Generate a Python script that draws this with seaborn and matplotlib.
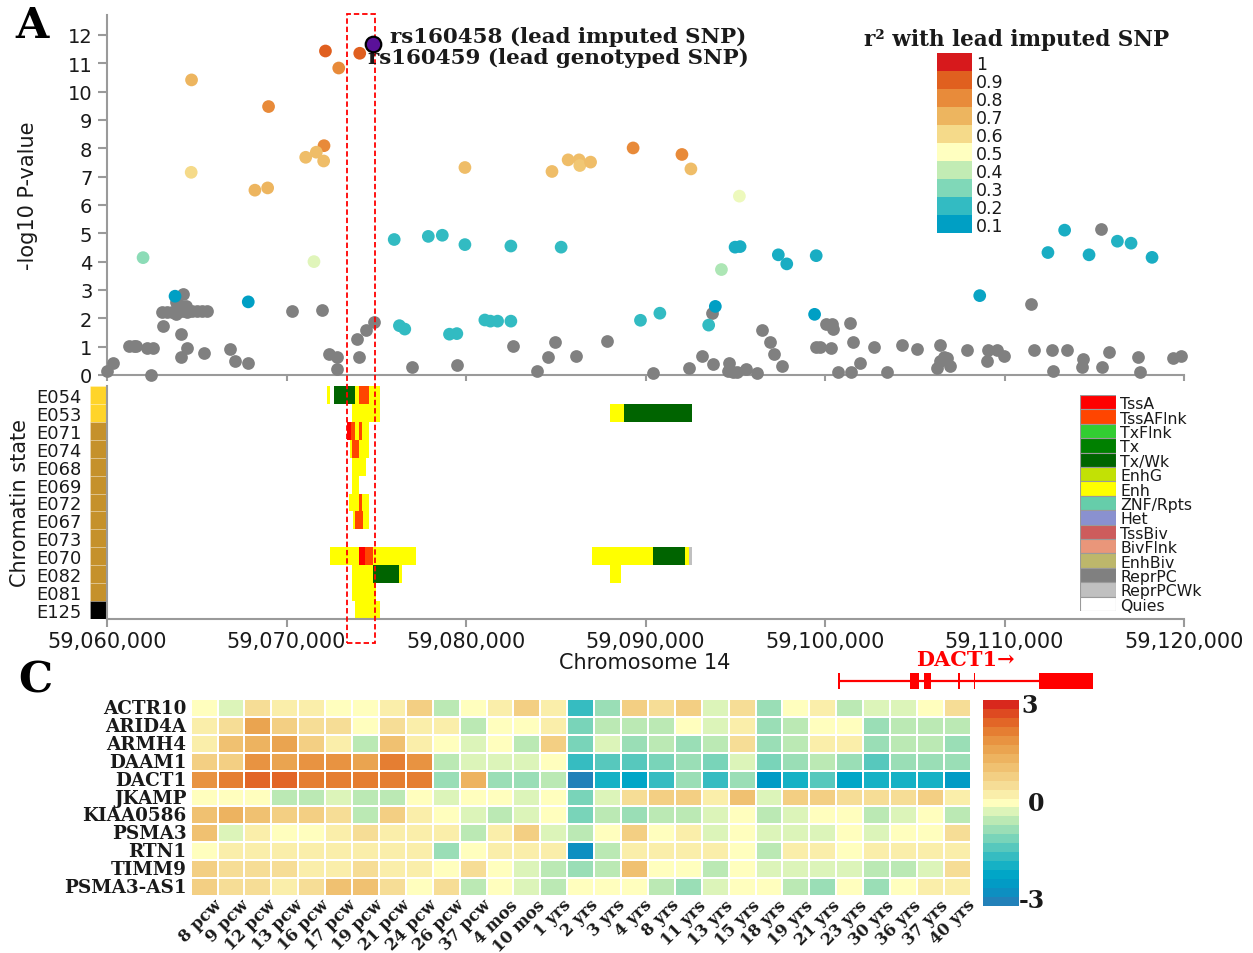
import numpy as np
import pandas as pd
import matplotlib
matplotlib.use("Agg")
import matplotlib.pyplot as plt
import seaborn as sns
import matplotlib.transforms as mtransforms
from matplotlib.colors import LinearSegmentedColormap, ListedColormap
from matplotlib.patches import Rectangle
from matplotlib.ticker import FuncFormatter

# ---------------------------------------------------------------- data
region = (59060000, 59120000)

# colored SNPs (position, -log10 P, r2 with lead SNP)
snp_pos = [59072170, 59074080, 59072910, 59064710, 59069000, 59072090, 59071070, 59071660,
           59072070, 59064690, 59068240, 59068950, 59062010, 59076000, 59071530, 59063790,
           59067870, 59079940, 59084790, 59085690, 59086300, 59086340, 59086940, 59089310,
           59092030, 59092530, 59095230, 59077900, 59078680, 59079940, 59082500, 59085300,
           59094990, 59095270, 59094230, 59097400, 59097870, 59093890, 59093520, 59089720,
           59090800, 59076290, 59076590, 59079080, 59079490, 59081050, 59081360, 59081760,
           59082500, 59099510, 59108620, 59099420, 59112420, 59113350, 59116290, 59117050,
           59114710, 59118220]
snp_logp = [11.43, 11.35, 10.83, 10.41, 9.47, 8.09, 7.68, 7.86,
            7.55, 7.15, 6.52, 6.60, 4.14, 4.78, 4.00, 2.78,
            2.58, 7.32, 7.18, 7.59, 7.59, 7.39, 7.51, 8.01,
            7.78, 7.27, 6.31, 4.89, 4.93, 4.60, 4.55, 4.51,
            4.51, 4.53, 3.72, 4.24, 3.92, 2.42, 1.76, 1.93,
            2.18, 1.74, 1.62, 1.44, 1.46, 1.94, 1.90, 1.90,
            1.90, 4.21, 2.80, 2.14, 4.32, 5.11, 4.72, 4.65,
            4.24, 4.15]
snp_r2 = [0.90, 0.90, 0.80, 0.70, 0.80, 0.80, 0.68, 0.68,
          0.68, 0.60, 0.70, 0.70, 0.32, 0.20, 0.45, 0.10,
          0.10, 0.68, 0.68, 0.68, 0.68, 0.65, 0.68, 0.80,
          0.80, 0.68, 0.47, 0.20, 0.20, 0.20, 0.20, 0.20,
          0.15, 0.15, 0.37, 0.15, 0.15, 0.10, 0.20, 0.20,
          0.20, 0.20, 0.20, 0.20, 0.20, 0.20, 0.20, 0.20,
          0.20, 0.15, 0.12, 0.10, 0.15, 0.15, 0.17, 0.17,
          0.15, 0.15]

# SNPs without LD information (grey)
grey_pos = [59093690, 59077000, 59079490, 59082620, 59083940, 59084550, 59084980, 59086150,
            59087860, 59090430, 59092400, 59093150, 59093740, 59094640, 59094620, 59094900,
            59095080, 59095600, 59096200, 59096480, 59096940, 59097170, 59097600, 59115400,
            59111470, 59100050, 59100380, 59100470, 59101410, 59099490, 59099730, 59100350,
            59101540, 59102750, 59104270, 59105130, 59106390, 59106620, 59106390, 59106800,
            59106950, 59106240, 59107920, 59109070, 59109590, 59109960, 59109030, 59101930,
            59100700, 59101450, 59103450, 59111670, 59112620, 59113460, 59114390, 59114330,
            59115800, 59115430, 59112680, 59117440, 59117530, 59119360, 59119820, 59060020,
            59060350, 59061230, 59061510, 59061600, 59062250, 59062580, 59062470, 59063140,
            59063090, 59063370, 59063640, 59063920, 59064200, 59064480, 59064760, 59065040,
            59065320, 59065560, 59063830, 59064150, 59064390, 59064260, 59063830, 59064110,
            59064430, 59064110, 59065410, 59066860, 59067130, 59067830, 59070310, 59071960,
            59072390, 59072820, 59072820, 59073900, 59074060, 59074440, 59074860]
grey_logp = [2.19, 0.27, 0.37, 1.01, 0.13, 0.65, 1.18, 0.66,
             1.21, 0.07, 0.24, 0.66, 0.39, 0.41, 0.15, 0.10,
             0.12, 0.21, 0.07, 1.60, 1.15, 0.74, 0.33, 5.15,
             2.49, 1.80, 1.80, 1.62, 1.84, 0.98, 0.98, 0.94,
             1.15, 0.98, 1.06, 0.92, 1.06, 0.62, 0.50, 0.59,
             0.31, 0.24, 0.89, 0.89, 0.89, 0.66, 0.50, 0.42,
             0.10, 0.10, 0.10, 0.89, 0.89, 0.89, 0.56, 0.27,
             0.82, 0.27, 0.15, 0.65, 0.10, 0.59, 0.66, 0.15,
             0.41, 1.03, 1.03, 1.01, 0.94, 0.94, 0.00, 1.72,
             2.21, 2.21, 2.21, 2.21, 2.27, 2.21, 2.27, 2.27,
             2.27, 2.27, 2.57, 2.45, 2.45, 2.86, 2.15, 1.45,
             0.95, 0.62, 0.77, 0.92, 0.50, 0.42, 2.26, 2.31,
             0.74, 0.62, 0.21, 1.27, 0.65, 1.60, 1.88]

lead_pos, lead_logp = 59074800, 11.68
ann_labels = ["rs160458 (lead imputed SNP)", "rs160459 (lead genotyped SNP)"]

r2_levels = [1.0, 0.9, 0.8, 0.7, 0.6, 0.5, 0.4, 0.3, 0.2, 0.1]
r2_colors = ["#d7191c", "#e0601f", "#e88b3a", "#edb55f", "#f5da8a",
             "#ffffc0", "#c2ecb4", "#80d8b8", "#33bbc2", "#009fc4"]

# chromatin states (Roadmap 15-state model)
state_names = ["TssA", "TssAFlnk", "TxFlnk", "Tx", "Tx/Wk", "EnhG", "Enh", "ZNF/Rpts",
               "Het", "TssBiv", "BivFlnk", "EnhBiv", "ReprPC", "ReprPCWk", "Quies"]
state_colors = ["#ff0000", "#ff4500", "#32cd32", "#008000", "#006400", "#c2e105", "#ffff00",
                "#66cdaa", "#8a91d0", "#cd5c5c", "#e9967a", "#bdb76b", "#808080", "#c0c0c0",
                "#ffffff"]
samples = ["E054", "E053", "E071", "E074", "E068", "E069", "E072", "E067", "E073",
           "E070", "E082", "E081", "E125"]
sample_group_colors = ["#ffd42a", "#ffd42a"] + ["#c5912b"] * 10 + ["#000000"]

seg_sample = ["E054", "E054", "E054", "E054", "E054",
              "E053", "E053", "E053",
              "E071", "E071", "E071", "E071", "E071",
              "E074", "E074", "E074",
              "E068", "E069",
              "E072", "E072", "E072",
              "E067", "E067", "E067",
              "E070", "E070", "E070", "E070", "E070", "E070", "E070", "E070",
              "E082", "E082", "E082", "E082",
              "E081", "E125"]
seg_start = [59072240, 59072630, 59073810, 59074020, 59074620,
             59073630, 59088010, 59088810,
             59073390, 59073620, 59073820, 59074020, 59074210,
             59073540, 59073650, 59074020,
             59073630, 59073630,
             59073470, 59074020, 59074210,
             59073730, 59073840, 59074250,
             59072440, 59074020, 59074400, 59074800, 59087010, 59090430, 59092220, 59092410,
             59073630, 59074800, 59076240, 59088010,
             59073630, 59073840]
seg_end = [59072430, 59073810, 59074020, 59074620, 59075220,
           59075230, 59088810, 59092610,
           59073620, 59073820, 59074020, 59074210, 59074620,
           59073650, 59074020, 59074620,
           59074440, 59074020,
           59074020, 59074210, 59074620,
           59073840, 59074250, 59074620,
           59074020, 59074400, 59074800, 59077230, 59090430, 59092220, 59092410, 59092610,
           59074800, 59076240, 59076410, 59088610,
           59074960, 59075230]
seg_state = ["Enh", "Tx/Wk", "Enh", "TssAFlnk", "Enh",
             "Enh", "Enh", "Tx/Wk",
             "TssA", "TssAFlnk", "Enh", "TssAFlnk", "Enh",
             "Enh", "TssAFlnk", "Enh",
             "Enh", "Enh",
             "Enh", "TssAFlnk", "Enh",
             "Enh", "TssAFlnk", "Enh",
             "Enh", "TssA", "TssAFlnk", "Enh", "Enh", "Tx/Wk", "Enh", "ReprPCWk",
             "Enh", "Tx/Wk", "Enh", "Enh",
             "Enh", "Enh"]

highlight = (59073390, 59074950)

# DACT1 gene model
gene_start, gene_end = 59100760, 59114950
exon_start = [59100730, 59104740, 59105490, 59107420, 59108290, 59111900]
exon_end = [59100830, 59105220, 59105910, 59107500, 59108370, 59114950]
gene_label = "DACT1\u2192"
gene_label_pos = 59107820

# expression heatmap (z-scores)
genes = ["ACTR10", "ARID4A", "ARMH4", "DAAM1", "DACT1", "JKAMP", "KIAA0586", "PSMA3",
         "RTN1", "TIMM9", "PSMA3-AS1"]
ages = ["8 pcw", "9 pcw", "12 pcw", "13 pcw", "16 pcw", "17 pcw", "19 pcw", "21 pcw",
        "24 pcw", "26 pcw", "37 pcw", "4 mos", "10 mos", "1 yrs", "2 yrs", "3 yrs", "4 yrs",
        "8 yrs", "11 yrs", "13 yrs", "15 yrs", "18 yrs", "19 yrs", "21 yrs", "23 yrs",
        "30 yrs", "36 yrs", "37 yrs", "40 yrs"]
expr_ACTR10 = [0.1, -0.3, 0.5, 0.15, 0.15, 0.1, 0.1, 0.2, 0.8, -0.5, 0.1, 0.3, 0.9, 0.35, -1.6,
               -0.9, 0.9, 0.6, 0.7, -0.3, 0.6, -0.9, 0.1, 0.35, -0.5, -0.25, -0.15, 0.1, 0.5]
expr_ARID4A = [0.35, 0.6, 1.5, 0.8, 0.6, 0.55, -0.05, 0.65, 0.35, 0.35, -0.6, -0.1, 0.05, 0.3,
               -1.0, -0.4, -0.5, -0.6, 0.1, -0.3, 0.35, -0.7, -0.6, 0.0, 0.05, -0.9, -0.5,
               -0.4, -0.45]
expr_ARMH4 = [0.3, 1.0, 1.3, 1.6, 0.7, 0.15, -0.5, 0.95, 0.15, -0.05, -0.3, -0.1, -0.65, 0.7,
              -1.05, -0.35, -0.75, -0.65, -0.75, -0.5, 0.55, -0.75, -0.4, 0.25, 0.3, -0.85,
              -0.4, -0.65, -0.85]
expr_DAAM1 = [0.8, 0.9, 1.8, 1.6, 1.8, 1.85, 1.6, 2.0, 1.8, -0.6, -0.3, -0.35, -0.2, -0.1,
              -1.6, -1.3, -1.3, -1.0, -0.8, -1.0, -0.25, -1.1, -0.9, -0.5, -0.8, -1.3, -0.8,
              -0.7, -0.8]
expr_DACT1 = [1.95, 2.05, 2.35, 2.45, 2.2, 2.2, 2.05, 2.15, 2.15, -0.8, 1.3, -0.7, -0.75, -0.5,
              -2.9, -1.9, -2.1, -1.6, -0.8, -1.6, -0.75, -2.4, -1.7, -1.25, -2.1, -1.7, -1.9,
              -1.7, -2.25]
expr_JKAMP = [0.1, 0.05, -0.05, -0.4, -0.45, -0.25, -0.6, -0.45, 0.1, -0.25, 0.05, 0.05, -0.2,
              0.05, -1.0, -0.3, 0.6, 0.7, 0.75, 0.35, 1.0, -0.3, 0.75, 0.9, 0.55, 0.6, 0.55,
              0.7, 0.3]
expr_KIAA0586 = [1.0, 1.3, 1.0, 0.75, 0.7, 0.4, -0.4, 0.7, 0.3, 0.0, -0.3, -0.45, -0.35, -0.1,
                 -1.0, -0.65, -0.9, -0.5, -0.55, -0.35, 0.1, -0.65, -0.2, 0.05, -0.1, -0.45,
                 -0.15, 0.05, -0.4]
expr_PSMA3 = [1.0, -0.2, 0.15, 0.1, -0.1, 0.2, 0.6, 0.15, 0.15, 0.15, -0.4, 0.3, 0.7, -0.3,
              -0.5, -0.1, 0.9, 0.1, 0.2, -0.25, 0.1, -0.3, -0.25, -0.3, -0.1, -0.3, -0.1,
              -0.1, 0.55]
expr_RTN1 = [0.1, 0.15, 0.15, 0.2, 0.2, 0.15, 0.2, 0.15, 0.2, -0.8, 0.1, 0.2, 0.3, 0.2, -2.6,
             -0.65, 0.2, 0.3, 0.3, 0.15, 0.1, -0.45, 0.3, 0.2, 0.1, 0.2, 0.3, 0.3, 0.25]
expr_TIMM9 = [0.7, 0.55, 0.55, 0.5, 0.2, 0.3, 0.55, 0.2, 0.15, -0.1, 0.6, -0.1, -0.3, -0.45,
              -0.7, -0.5, 1.1, -0.1, 0.1, -0.55, -0.1, -0.3, -0.2, -0.25, -0.3, -0.55, -0.4,
              -0.2, 0.65]
expr_PSMA3_AS1 = [0.7, 0.55, 0.5, 0.3, 0.55, 1.0, 1.0, 0.65, 0.1, 0.55, -0.45, -0.1, -0.35,
                  -0.45, 0.0, -0.05, 0.1, -0.65, -0.7, -0.3, -0.1, 0.1, -0.55, -0.7, -0.1,
                  -0.8, -0.1, 0.3, 0.15]
expr_rows = [expr_ACTR10, expr_ARID4A, expr_ARMH4, expr_DAAM1, expr_DACT1, expr_JKAMP,
             expr_KIAA0586, expr_PSMA3, expr_RTN1, expr_TIMM9, expr_PSMA3_AS1]

# ---------------------------------------------------------------- style
sns.set_theme(style="white")
plt.rcParams['font.family'] = ['DejaVu Sans']
SERIF = ['DejaVu Serif', 'DejaVu Sans']
SPINE = '#9a9a9a'
TXT = '#1a1a1a'

W, H = 1253, 954
fig = plt.figure(figsize=(W / 100, H / 100), dpi=100)


def ax_px(x0, y0, x1, y1):
    return fig.add_axes([x0 / W, 1 - y1 / H, (x1 - x0) / W, (y1 - y0) / H])


r2_cmap = LinearSegmentedColormap.from_list(
    "r2", list(zip([(v - 0.1) / 0.9 for v in r2_levels[::-1]], r2_colors[::-1])))

hm_anchor_v = [-3, -2.5, -2, -1.5, -1, -0.5, 0, 0.5, 1, 1.5, 2, 2.5, 3]
hm_anchor_c = ["#2c7bb6", "#0396c4", "#00aac8", "#3ebfc0", "#7fd6b8", "#bfeab4", "#ffffbf",
               "#f6df98", "#f0c474", "#eba854", "#e68836", "#e05a22", "#d7191c"]
hm_cont = LinearSegmentedColormap.from_list(
    "hm", list(zip([(v + 3) / 6 for v in hm_anchor_v], hm_anchor_c)))
nb = 23
hm_cmap = ListedColormap([hm_cont((i + 0.5) / nb) for i in range(nb)])

xfmt = FuncFormatter(lambda v, p: f"{int(round(v)):,}")
xt = list(range(region[0], region[1] + 1, 10000))

# ---------------------------------------------------------------- chromatin states
ax2 = ax_px(107, 387, 1184, 620)
ax2.set_facecolor('none')
ax2.set_zorder(1)
state_col = dict(zip(state_names, state_colors))
row_of = {s: i for i, s in enumerate(samples)}
seg_df = pd.DataFrame({"sample": seg_sample, "start": seg_start, "end": seg_end,
                       "state": seg_state})
ax2.barh(y=[row_of[s] for s in seg_df["sample"]], width=seg_df["end"] - seg_df["start"],
         left=seg_df["start"], height=1.0, color=[state_col[s] for s in seg_df["state"]],
         linewidth=0)
ax2.set_xlim(*region)
ax2.set_ylim(len(samples) - 0.5, -0.5)
ax2.set_yticks([])
ax2.set_xticks(xt)
ax2.xaxis.set_major_formatter(xfmt)
ax2.tick_params(axis='x', direction='out', length=6, width=1.5, color=SPINE, pad=3,
                labelsize=15, labelcolor=TXT, bottom=True)
for s in ['top', 'right']:
    ax2.spines[s].set_visible(False)
for s in ['left', 'bottom']:
    ax2.spines[s].set_color(SPINE)
    ax2.spines[s].set_linewidth(1.5)
fig.text(645 / W, 1 - 663 / H, "Chromosome 14", ha='center', va='center', fontsize=15,
         color=TXT)
fig.text(20 / W, 1 - 503 / H, "Chromatin state", rotation=90, ha='center', va='center',
         fontsize=15, color=TXT)

# sample group strip
axs = ax_px(89.5, 387, 107, 620)
axs.barh(y=range(len(samples)), width=[1] * len(samples), left=0, height=1.0,
         color=sample_group_colors, edgecolor=(1, 1, 1, 0.25), linewidth=0.6)
axs.set_xlim(0, 1)
axs.set_ylim(len(samples) - 0.5, -0.5)
axs.set_xticks([])
axs.set_yticks(range(len(samples)))
axs.set_yticklabels(samples)
axs.tick_params(axis='y', length=0, pad=6, labelsize=12.9, labelcolor=TXT)
for s in axs.spines.values():
    s.set_visible(False)

# chromatin legend
axc = ax_px(1080, 396, 1116, 612)
axc.set_zorder(2)
axc.barh(y=range(len(state_names)), width=[1] * len(state_names), left=0, height=1.0,
         color=state_colors, edgecolor='#9a9a9a', linewidth=0.8)
axc.set_xlim(0, 1)
axc.set_ylim(len(state_names) - 0.5, -0.5)
axc.set_xticks([])
axc.yaxis.tick_right()
axc.set_yticks(range(len(state_names)))
axc.set_yticklabels(state_names)
axc.tick_params(axis='y', length=0, pad=3, labelsize=11.3, labelcolor=TXT)
for s in axc.spines.values():
    s.set_visible(False)

# ---------------------------------------------------------------- panel A: scatter
ax1 = ax_px(107, 16, 1184, 376)
ax1.set_facecolor('none')
ax1.set_zorder(3)
grey_df = pd.DataFrame({"pos": grey_pos, "logp": grey_logp})
col_df = pd.DataFrame({"pos": snp_pos, "logp": snp_logp, "r2": snp_r2})
sns.scatterplot(data=grey_df, x="pos", y="logp", color="#808080", s=84, linewidth=0,
                ax=ax1, clip_on=False, zorder=3)
sns.scatterplot(data=col_df, x="pos", y="logp", hue="r2", palette=r2_cmap, hue_norm=(0.1, 1.0),
                s=84, linewidth=0, legend=False, ax=ax1, clip_on=False, zorder=4)
ax1.scatter([lead_pos], [lead_logp], s=125, color="#5a1199", edgecolor="black", linewidth=1.6,
            zorder=8, clip_on=False)
ax1.set_xlim(*region)
ax1.set_ylim(0, 12.7)
ax1.set_yticks(range(0, 13))
ax1.set_xticks(xt)
ax1.xaxis.set_major_formatter(xfmt)
ax1.tick_params(axis='y', direction='out', length=6.5, width=1.5, color=SPINE, pad=4,
                labelsize=14, labelcolor=TXT, left=True)
ax1.tick_params(axis='x', direction='out', length=4.5, width=1.5, color=SPINE, labelbottom=False,
                bottom=True)
for s in ['top', 'right']:
    ax1.spines[s].set_visible(False)
for s in ['left', 'bottom']:
    ax1.spines[s].set_color(SPINE)
    ax1.spines[s].set_linewidth(1.5)
ax1.set_xlabel("")
ax1.set_ylabel("")

# highlight box spanning both genomic panels (under the lead SNP marker)
bt = mtransforms.blended_transform_factory(ax1.transData, fig.transFigure)
ax1.add_patch(Rectangle((highlight[0], 1 - 644 / H), highlight[1] - highlight[0],
                        (644 - 15) / H, transform=bt, fill=False, edgecolor='#ff0000',
                        linewidth=1.3, linestyle=(0, (3, 1.6)), zorder=6, clip_on=False))

# annotations for the lead SNPs
ax1.annotate(ann_labels[0], xy=(lead_pos, lead_logp), xytext=(17, 8), textcoords='offset pixels',
             ha='left', va='center', fontsize=15.4, fontweight='bold', family=SERIF, color=TXT,
             zorder=9, annotation_clip=False)
ax1.annotate(ann_labels[1], xy=(snp_pos[1], snp_logp[1]), xytext=(8, -4),
             textcoords='offset pixels', ha='left', va='center', fontsize=15.4,
             fontweight='bold', family=SERIF, color=TXT, zorder=7, annotation_clip=False)

fig.text(28 / W, 1 - 196 / H, "-log10 P-value", rotation=90, ha='center', va='center',
         fontsize=15, color=TXT)

# r2 legend
axl = ax_px(937, 54, 972, 234)
axl.set_zorder(4)
axl.barh(y=list(range(len(r2_levels))), width=[1] * len(r2_levels), left=0, height=1.0,
         color=r2_colors, linewidth=0)
axl.set_ylim(len(r2_levels) - 0.5, -0.5)
axl.set_xlim(0, 1)
axl.set_xticks([])
axl.yaxis.tick_right()
axl.set_yticks(range(len(r2_levels)))
axl.set_yticklabels([f"{v:g}" for v in r2_levels])
axl.tick_params(axis='y', length=0, pad=3, labelsize=12.5, labelcolor=TXT)
for s in axl.spines.values():
    s.set_visible(False)
fig.text(1017 / W, 1 - 40 / H, "r\u00b2 with lead imputed SNP", ha='center', va='center',
         fontsize=15.5, fontweight='bold', family=SERIF, color=TXT)

# ---------------------------------------------------------------- gene track
axg = ax_px(107, 650, 1184, 697)
axg.set_facecolor('none')
axg.set_xlim(*region)
axg.set_ylim(47, 0)
axg.plot([gene_start, gene_end], [31.7, 31.7], color='#ff0000', lw=1.6, solid_capstyle='butt')
axg.bar(x=exon_start, height=16, width=[e - s for s, e in zip(exon_start, exon_end)],
        bottom=23.7, align='edge', color='#ff0000', linewidth=0)
axg.text(gene_label_pos, 10, gene_label, ha='center', va='center', fontsize=15,
         fontweight='bold', family=SERIF, color='#ff0000')
axg.axis('off')

# ---------------------------------------------------------------- panel C: heatmap
expr_df = pd.DataFrame(expr_rows, index=genes, columns=ages)
axh = ax_px(190.7, 700, 970.7, 897)
cax = ax_px(983, 701, 1019, 907)
sns.heatmap(expr_df, cmap=hm_cmap, vmin=-3, vmax=3, linewidths=1.3, linecolor='white',
            ax=axh, cbar_ax=cax, cbar_kws={"ticks": []})
axh.set_yticks(np.arange(len(genes)) + 0.5)
axh.set_yticklabels(genes, rotation=0, fontsize=13.2, fontweight='bold', family=SERIF,
                    color=TXT)
axh.set_xticks(np.arange(len(ages)) + 0.5)
axh.set_xticklabels(ages, rotation=45, ha='right', rotation_mode='anchor', fontsize=11.8,
                    fontweight='bold', family=SERIF, color=TXT)
axh.tick_params(axis='y', length=0, pad=3)
axh.tick_params(axis='x', length=0, pad=0)
shift = mtransforms.ScaledTranslation(9 / 100, 0, fig.dpi_scale_trans)
for lab in axh.get_xticklabels():
    lab.set_transform(lab.get_transform() + shift)
axh.set_xlabel("")
axh.set_ylabel("")
cax.tick_params(length=0)
for s in cax.spines.values():
    s.set_visible(False)
cb = axh.collections[0].colorbar
cb.outline.set_visible(False)
cax.text(1.07, 0.975, "3", transform=cax.transAxes, ha='left', va='center', fontsize=17,
         fontweight='bold', family=SERIF, color=TXT)
cax.text(1.25, 0.5, "0", transform=cax.transAxes, ha='left', va='center', fontsize=17,
         fontweight='bold', family=SERIF, color=TXT)
cax.text(1.0, 0.03, "-3", transform=cax.transAxes, ha='left', va='center', fontsize=17,
         fontweight='bold', family=SERIF, color=TXT)

# panel letters
fig.text(32 / W, 1 - 26 / H, "A", ha='center', va='center', fontsize=31, fontweight='bold',
         family=SERIF, color='black')
fig.text(35 / W, 1 - 681 / H, "C", ha='center', va='center', fontsize=31, fontweight='bold',
         family=SERIF, color='black')

fig.savefig("out.png", dpi=100, facecolor='white')
